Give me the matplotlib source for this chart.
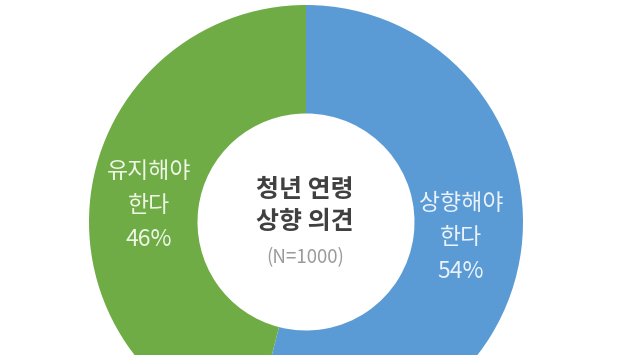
import matplotlib
matplotlib.use("Agg")
import matplotlib.pyplot as plt

# ==========================
# Data
# ==========================
labels = ["상향해야\n한다", "유지해야\n한다"]
values = [54, 46]
colors = ["#5B9BD5", "#6FAC46"]
text_colors = ["#EAF2FB", "#EEF6E6"]
center_title = "청년 연령\n상향 의견"
sample_note = "(N=1000)"

plt.rcParams["font.family"] = ["Noto Sans CJK KR", "DejaVu Sans"]

W, H = 627, 355
fig = plt.figure(figsize=(W / 100, H / 100), dpi=100)
ax = fig.add_axes([0, 0, 1, 1])

cx, cy = 306, H - 222
r_out = 217

wedges, _ = ax.pie(
    values,
    colors=colors,
    startangle=90,
    counterclock=False,
    center=(cx, cy),
    radius=r_out,
    wedgeprops=dict(width=r_out * 0.5, linewidth=0),
    frame=True,
)
ax.set_xlim(0, W)
ax.set_ylim(0, H)
ax.set_aspect("equal")
ax.axis("off")

# ==========================
# Labels in the ring
# ==========================
label_pos = [(461, 203), (149, 172)]
line_gap = 34

for lab, val, (lx, ly), tc in zip(labels, values, label_pos, text_colors):
    lines = lab.split("\n") + [f"{val}%"]
    for i, line in enumerate(lines):
        ax.text(lx, H - (ly + i * line_gap), line,
                ha="center", va="center", fontsize=16.5, color=tc)

# ==========================
# Center text
# ==========================
for i, line in enumerate(center_title.split("\n")):
    ax.text(305, H - (190 + i * 32), line, ha="center", va="center",
            fontsize=18, fontweight="bold", color="#404040")

ax.text(305, H - 258, sample_note, ha="center", va="center",
        fontsize=13.5, color="#9A9A9A")

fig.savefig("out.png", dpi=100)
